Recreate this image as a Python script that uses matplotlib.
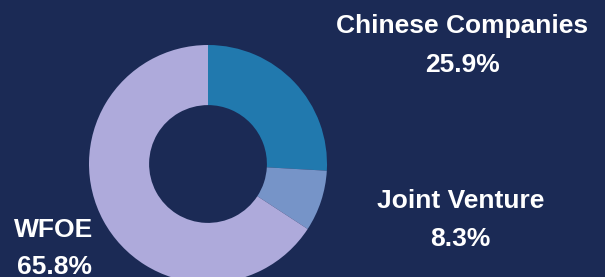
import matplotlib
matplotlib.use("Agg")
import matplotlib.pyplot as plt

categories = ["Chinese Companies", "Joint Venture", "WFOE"]
shares = [25.9, 8.3, 65.8]
colors = ["#2179ae", "#7694c8", "#aeaadb"]
bg = "#1b2a55"

W, H = 605, 277
fig = plt.figure(figsize=(W / 100, H / 100), dpi=100, facecolor=bg)

cx, cy, R = 208, 164, 119
ax = fig.add_axes([(cx - R) / W, (H - cy - R) / H, 2 * R / W, 2 * R / H])
ax.set_facecolor(bg)
ax.pie(shares, colors=colors, startangle=90, counterclock=False,
       radius=1.0, wedgeprops=dict(width=0.505, edgecolor="none"))
ax.set_xlim(-1, 1)
ax.set_ylim(-1, 1)
ax.axis("off")

# (center x, baseline of name, baseline of value) in pixels from top
label_pos = {
    "Chinese Companies": (462.5, 33.5, 72),
    "Joint Venture": (460.5, 208, 245.5),
    "WFOE": (54, 237, 274),
}
font = dict(family="Liberation Sans", weight="bold", color="white", fontsize=19)
for cat, val in zip(categories, shares):
    x, y1, y2 = label_pos[cat]
    fig.text(x / W, 1 - y1 / H, cat, ha="center", va="baseline", **font)
    fig.text(x / W, 1 - y2 / H, f"{val}%", ha="center", va="baseline", **font)

fig.savefig("out.png", dpi=100, facecolor=bg)
